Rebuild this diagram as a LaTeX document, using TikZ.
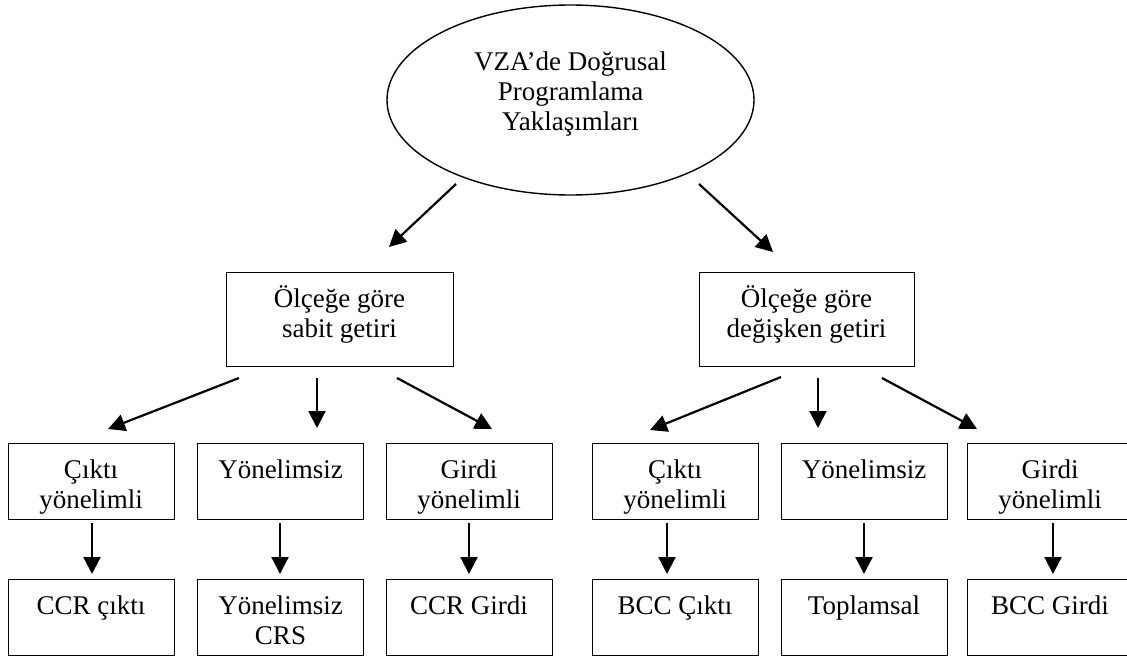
\documentclass[tikz,border=0pt]{standalone}
\usepackage{fontspec}
\setmainfont{Liberation Serif}
\usetikzlibrary{arrows.meta,shapes.geometric}
\newcommand\lstrut{\rule{0pt}{24pt}}
\begin{document}
\begin{tikzpicture}[x=1pt,y=-1pt,
  box/.style={draw, line width=1.4pt, inner sep=0pt, anchor=north west},
  topbox/.style={box, minimum height=94pt},
  rowbox/.style={box, minimum width=166pt, minimum height=76pt},
  txt/.style={font=\fontsize{27}{30}\selectfont, align=center, anchor=north, inner sep=0pt},
  arr/.style={line width=2.2pt, -{Triangle[length=17pt,width=17pt]}}]
\clip (0,0) rectangle (1127,656);
% root
\node[draw, ellipse, line width=1.4pt, minimum width=367pt, minimum height=190pt, inner sep=0pt] (root) at (570.5,100) {};
\node[txt] (rootT) at (570.5,46) {\lstrut VZA’de Doğrusal\\Programlama\\Yaklaşımları};
% level 1
\node[topbox, minimum width=227pt] (sabit) at (226,272) {};
\node[txt] (sabitT) at (339.5,283) {\lstrut Ölçeğe göre\\sabit getiri};
\node[topbox, minimum width=215pt] (degis) at (699,272) {};
\node[txt] (degisT) at (806.5,283) {\lstrut Ölçeğe göre\\değişken getiri};
% level 2
\node[rowbox] (a1) at (8,443) {};
\node[txt] (a1T) at (91,454) {\lstrut Çıktı\\yönelimli};
\node[rowbox] (a2) at (197,443) {};
\node[txt] (a2T) at (280.5,454) {\lstrut Yönelimsiz};
\node[rowbox] (a3) at (386,443) {};
\node[txt] (a3T) at (469,454) {\lstrut Girdi\\yönelimli};
\node[rowbox] (a4) at (592,443) {};
\node[txt] (a4T) at (675,454) {\lstrut Çıktı\\yönelimli};
\node[rowbox] (a5) at (781,443) {};
\node[txt] (a5T) at (864,454) {\lstrut Yönelimsiz};
\node[rowbox] (a6) at (967,443) {};
\node[txt] (a6T) at (1050,454) {\lstrut Girdi\\yönelimli};
% level 3
\node[rowbox] (b1) at (8,579) {};
\node[txt] (b1T) at (91,590) {\lstrut CCR çıktı};
\node[rowbox] (b2) at (197,579) {};
\node[txt] (b2T) at (280.5,590) {\lstrut Yönelimsiz\\CRS};
\node[rowbox] (b3) at (386,579) {};
\node[txt] (b3T) at (469,590) {\lstrut CCR Girdi};
\node[rowbox] (b4) at (592,579) {};
\node[txt] (b4T) at (675,590) {\lstrut BCC Çıktı};
\node[rowbox] (b5) at (781,579) {};
\node[txt] (b5T) at (864,590) {\lstrut Toplamsal};
\node[rowbox] (b6) at (967,579) {};
\node[txt] (b6T) at (1050,590) {\lstrut BCC Girdi};
% arrow end points
\coordinate (r1s) at (456,184); \coordinate (r1e) at (389,247);
\coordinate (r2s) at (699,184); \coordinate (r2e) at (773,252);
\coordinate (s1s) at (239,378); \coordinate (s1e) at (108,429);
\coordinate (s2s) at (317,378); \coordinate (s2e) at (317,428);
\coordinate (s3s) at (397,378); \coordinate (s3e) at (492,429);
\coordinate (d1s) at (781,377); \coordinate (d1e) at (650,430);
\coordinate (d2s) at (818,378); \coordinate (d2e) at (818,428);
\coordinate (d3s) at (882,378); \coordinate (d3e) at (977,429);
\foreach \n/\x in {v1/92, v2/280, v3/469, v4/667, v5/864, v6/1053}{
  \coordinate (\n s) at (\x,523); \coordinate (\n e) at (\x,574);
}
% arrows
\draw[arr] (r1s) -- (r1e);
\draw[arr] (r2s) -- (r2e);
\draw[arr] (s1s) -- (s1e);
\draw[arr] (s2s) -- (s2e);
\draw[arr] (s3s) -- (s3e);
\draw[arr] (d1s) -- (d1e);
\draw[arr] (d2s) -- (d2e);
\draw[arr] (d3s) -- (d3e);
\foreach \n in {v1,v2,v3,v4,v5,v6}{ \draw[arr] (\n s) -- (\n e); }
\end{tikzpicture}
\end{document}
